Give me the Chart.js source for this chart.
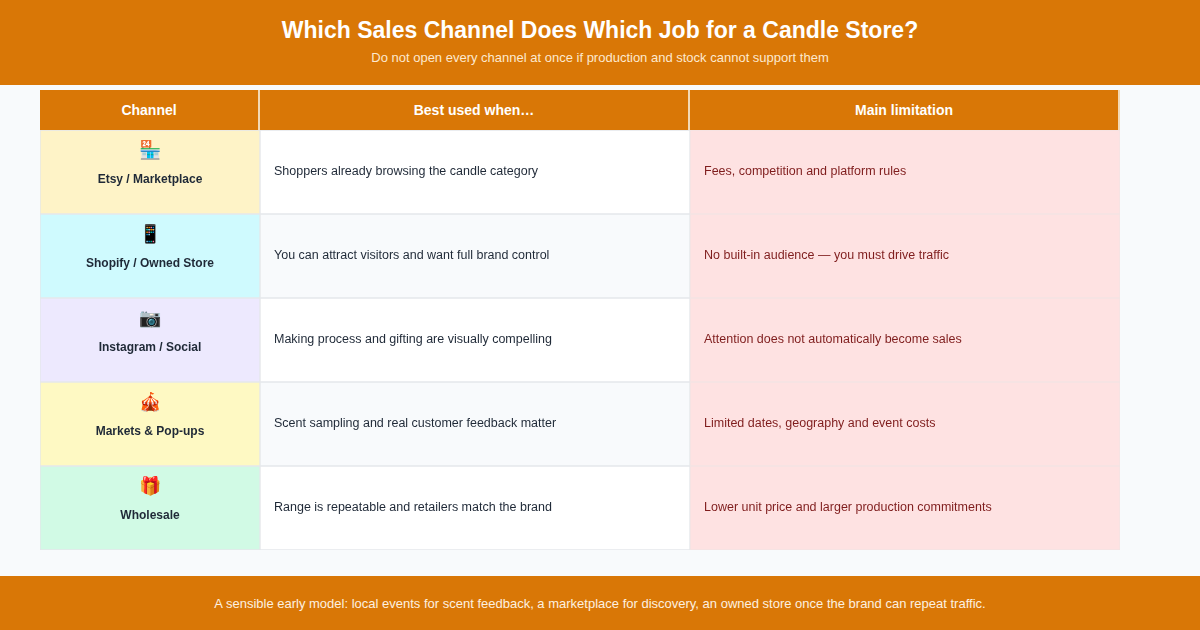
<!DOCTYPE html>
<html><head><meta charset="utf-8">
<script src="https://cdn.jsdelivr.net/npm/chart.js@4"></script>
<style>
body{margin:0;width:1200px;height:630px;background:#F8FAFC;font-family:"Liberation Sans",Arial,sans-serif;position:relative;overflow:hidden}
#top{position:absolute;left:0;top:0;width:1200px;height:85px;background:#D97706;color:#fff;text-align:center}
#top h1{margin:0;padding-top:17px;font-size:23px;font-weight:bold}
#top p{margin:6px 0 0;font-size:13px;color:#FDE9CF}
#hdr{position:absolute;left:40px;top:90px;width:1080px;height:40px;display:flex}
#hdr div{background:#D97706;color:#fff;font-weight:bold;font-size:14px;display:flex;align-items:center;justify-content:center;border-right:2px solid #F3D9B5;box-sizing:border-box}
#wrap{position:absolute;left:40px;top:130px;width:1080px;height:420px}
#foot{position:absolute;left:0;top:576px;width:1200px;height:54px;background:#D97706;color:#FDF1E0;font-size:13px;display:flex;align-items:center;justify-content:center}
</style></head><body>
<div id="top"><h1>Which Sales Channel Does Which Job for a Candle Store?</h1><p>Do not open every channel at once if production and stock cannot support them</p></div>
<div id="hdr"></div>
<div id="wrap"><canvas id="c"></canvas></div>
<div id="foot">A sensible early model: local events for scent feedback, a marketplace for discovery, an owned store once the brand can repeat traffic.</div>
<script>
const headers=["Channel","Best used when…","Main limitation"];
const channels=["Etsy / Marketplace","Shopify / Owned Store","Instagram / Social","Markets & Pop-ups","Wholesale"];
const icons=["🏪","📱","📷","🎪","🎁"];
const bestUsed=["Shoppers already browsing the candle category","You can attract visitors and want full brand control","Making process and gifting are visually compelling","Scent sampling and real customer feedback matter","Range is repeatable and retailers match the brand"];
const limitation=["Fees, competition and platform rules","No built-in audience — you must drive traffic","Attention does not automatically become sales","Limited dates, geography and event costs","Lower unit price and larger production commitments"];
const colEdges=[0,220,650,1080];
const chanColors=["#FEF3C7","#CFFAFE","#EDE9FE","#FEF9C3","#D1FAE5"];
const hdr=document.getElementById('hdr');
headers.forEach((h,i)=>{const d=document.createElement('div');d.textContent=h;d.style.width=(colEdges[i+1]-colEdges[i])+'px';hdr.appendChild(d);});
const mk=(i)=>channels.map(()=>[colEdges[i],colEdges[i+1]]);
const textPlugin={id:'txt',afterDatasetsDraw(ch){
 const ctx=ch.ctx;
 const m0=ch.getDatasetMeta(0),m1=ch.getDatasetMeta(1),m2=ch.getDatasetMeta(2);
 ctx.save();ctx.textBaseline='middle';
 channels.forEach((c,i)=>{
  const e=m0.data[i];const cx=(e.x+e.base)/2;
  ctx.textAlign='center';ctx.fillStyle='#1F2937';
  ctx.font='18px "Noto Sans", "DejaVu Sans", sans-serif';ctx.fillText(icons[i],cx,e.y-21);
  ctx.font='bold 12px "Liberation Sans", Arial';ctx.fillText(c,cx,e.y+8);
  ctx.textAlign='left';ctx.font='12.5px "Liberation Sans", Arial';
  const e1=m1.data[i];ctx.fillStyle='#1F2937';ctx.fillText(bestUsed[i],Math.min(e1.x,e1.base)+14,e1.y);
  const e2=m2.data[i];ctx.fillStyle='#7F1D1D';ctx.fillText(limitation[i],Math.min(e2.x,e2.base)+14,e2.y);
 });
 ctx.restore();}};
new Chart(document.getElementById('c'),{type:'bar',
 data:{labels:channels,datasets:[
  {data:mk(0),backgroundColor:chanColors,borderColor:'#E5E7EB',borderWidth:1,borderSkipped:false,grouped:false},
  {data:mk(1),backgroundColor:channels.map((_,i)=>i%2?'#F8FAFC':'#FFFFFF'),borderColor:'#E5E7EB',borderWidth:1,borderSkipped:false,grouped:false},
  {data:mk(2),backgroundColor:'#FEE2E2',borderColor:'#F3E3E3',borderWidth:1,borderSkipped:false,grouped:false}]},
 options:{indexAxis:'y',responsive:true,maintainAspectRatio:false,animation:false,
  layout:{padding:0},
  datasets:{bar:{barPercentage:1,categoryPercentage:1}},
  plugins:{legend:{display:false},tooltip:{enabled:false}},
  scales:{x:{type:'linear',min:0,max:1080,display:false},y:{display:false}}},
 plugins:[textPlugin]});
</script></body></html>
